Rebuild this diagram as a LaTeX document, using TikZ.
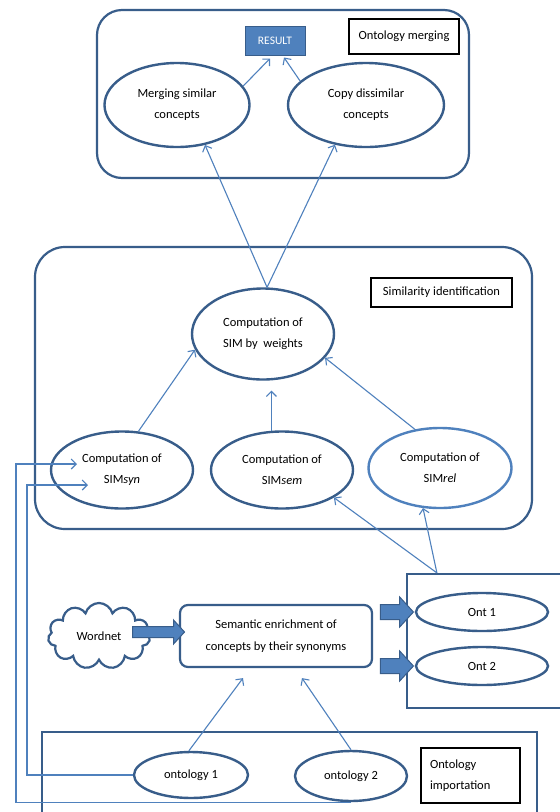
\documentclass[tikz,border=0pt]{standalone}
\usepackage{fontspec}
\setmainfont{Carlito}
\usetikzlibrary{shapes.geometric,shapes.symbols,shapes.arrows,calc,arrows.meta}
\definecolor{dkb}{RGB}{56,93,138}
\definecolor{lnb}{RGB}{79,129,189}
\begin{document}
\begin{tikzpicture}[x=1pt,y=-1pt,
  font=\fontsize{12.5}{21}\selectfont,
  ell/.style={ellipse, draw=dkb, line width=2.4pt, inner sep=0pt, align=center},
  cont/.style={rectangle, draw=dkb, line width=2.2pt, inner sep=0pt},
  lbl/.style={rectangle, draw=black, line width=1.2pt, inner sep=0pt, align=center},
  conn/.style={draw=lnb, line width=1.1pt, -{Straight Barb[length=5pt,width=10pt]}},
  blk/.style={single arrow, draw=dkb, fill=lnb, line width=1pt, inner xsep=0pt, single arrow tip angle=95}
]
\clip (0,0) rectangle (560,812);
\fill[white] (0,0) rectangle (560,812);

% ---------- Ontology merging ----------
\node[cont, rounded corners=25pt, minimum width=372pt, minimum height=168pt] (topc) at (283,94) {};
\node[lbl, minimum width=110pt, minimum height=35pt] (lmerge) at (404,36.5) {Ontology merging};
\node[rectangle, draw=dkb, fill=lnb, line width=1pt, minimum width=60pt, minimum height=29pt,
      text=white, font=\fontsize{11.5}{14}\selectfont] (res) at (275,40.5) {RESULT};
\node[ell, minimum width=145pt, minimum height=84pt] (merge) at (177,105) {Merging similar\\concepts};
\node[ell, minimum width=156pt, minimum height=84pt] (copy) at (366,105) {Copy dissimilar\\concepts};
\draw[conn] (merge.16) -- ($(res.south)+(-5,3)$);
\draw[conn] (copy.160) -- ($(res.south)+(9,2)$);

% ---------- Similarity identification ----------
\node[cont, rounded corners=30pt, minimum width=497pt, minimum height=282pt] (midc) at (283.5,388) {};
\node[lbl, minimum width=141pt, minimum height=29pt] (lsim) at (441.5,292.5) {Similarity identification};
\node[ell, minimum width=142pt, minimum height=91pt] (wts) at (263,334) {Computation of\\SIM by\ \ weights};
\node[ell, minimum width=142pt, minimum height=77pt] (syn) at (122,470) {Computation of\\SIM\textit{syn}};
\node[ell, minimum width=142pt, minimum height=77pt] (sem) at (282,470) {Computation of\\SIM\textit{sem}};
\node[ell, draw=lnb, minimum width=143pt, minimum height=80pt] (rel) at (440,468) {Computation of\\SIM\textit{rel}};

\draw[conn] (wts.85) -- (merge.-55);
\draw[conn] (wts.85) -- (copy.-128);
\draw[conn] (syn.67) -- (wts.193);
\draw[conn, shorten >=10pt] (sem.105) -- (sem.105 |- wts.south);
\draw[conn] (rel.123) -- (wts.-21);

% ---------- Enrichment ----------
\node[cont, minimum width=173pt, minimum height=134pt] (ontb) at (493.5,641) {};
\coordinate (otop) at ($(ontb.north west)+(31,0)$);
\draw[conn] (otop) -- (sem.-28);
\draw[conn] (otop) -- (rel.-113);
\node[ell, minimum width=132pt, minimum height=38pt] (ont1) at (482,612) {Ont 1};
\node[ell, minimum width=132pt, minimum height=38pt] (ont2) at (482,666) {Ont 2};

\node[rectangle, draw=dkb, line width=2.2pt, rounded corners=8pt, minimum width=192pt, minimum height=62pt,
      align=center, font=\fontsize{12.5}{22}\selectfont] (semb) at (276,636) {Semantic enrichment of\\concepts by their synonyms};
\node[cloud, draw=dkb, line width=2.2pt, cloud puffs=11, aspect=1.6, inner sep=0pt,
      minimum width=102pt, minimum height=66pt] (wn) at (99,636) {Wordnet};

\node[blk, minimum height=52pt, inner ysep=5pt, single arrow head extend=6.5pt] (a0) at (156,632) {};
\node[blk, minimum height=33pt, inner ysep=7pt, single arrow head extend=7.5pt] (a1) at (393.5,612) {};
\node[blk, minimum height=33pt, inner ysep=7pt, single arrow head extend=7.5pt] (a2) at (393.5,666) {};

% ---------- Ontology importation ----------
\node[cont, minimum width=495pt, minimum height=108pt] (botc) at (289.5,786) {};
\node[lbl, minimum width=99pt, minimum height=55pt, text width=81pt, align=left] (limp) at (470.5,775.5) {Ontology\\importation};
\node[ell, minimum width=114pt, minimum height=46pt] (o1) at (191,775) {ontology 1};
\node[ell, minimum width=112pt, minimum height=50pt] (o2) at (351,776) {ontology 2};

\draw[conn] (o1.95) -- ($(semb.south)+(-33,10)$);
\draw[conn] (o2.north) -- ($(semb.south)+(26,10)$);

\coordinate (xa) at (27,0);
\coordinate (xb) at (16,0);
\coordinate (t1) at ($(syn.center)+(-45,-6)$);
\coordinate (t2) at ($(syn.center)+(-34,15)$);
\draw[conn] (o1.west) -- (o1.west -| xa) |- (t2);
\draw[conn] (o2.south) -- (o2.south -| xb) |- (t1);
\end{tikzpicture}
\end{document}
